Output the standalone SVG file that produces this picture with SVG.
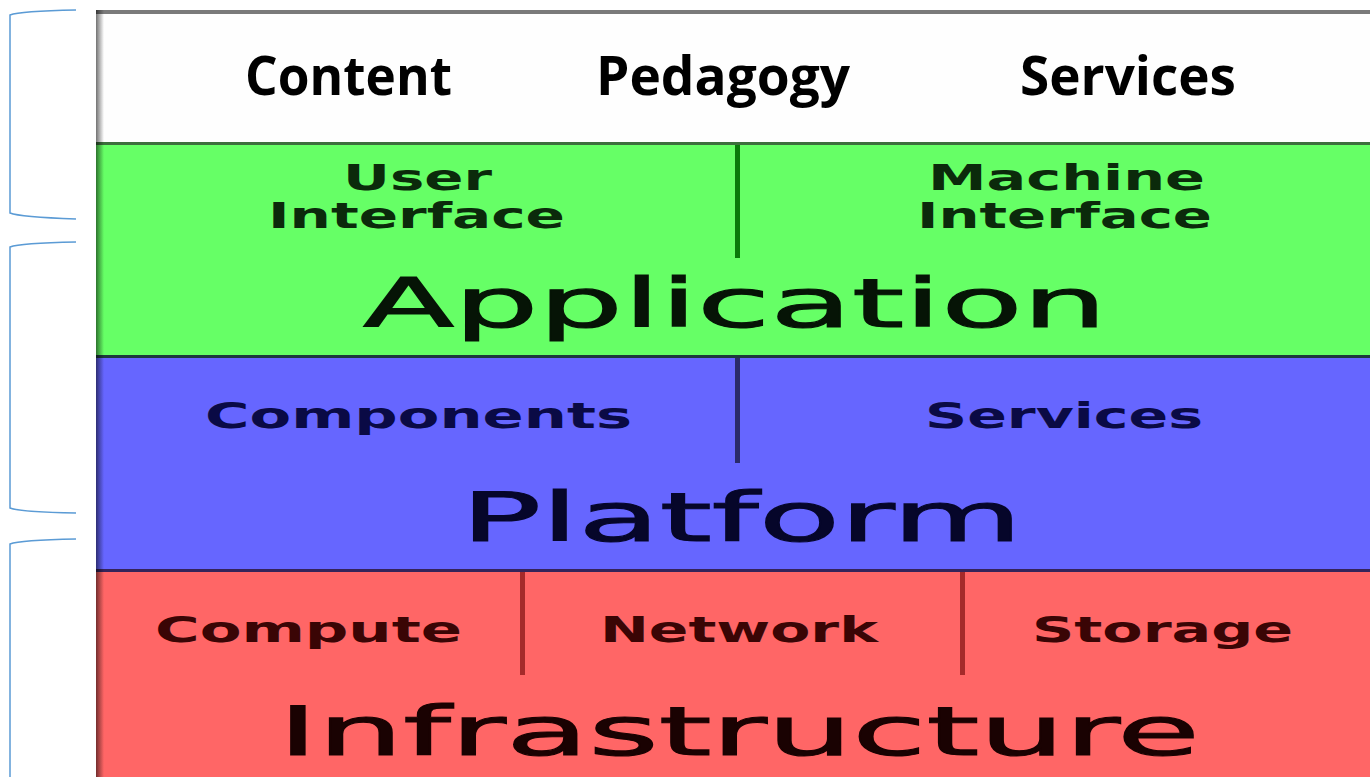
<svg xmlns="http://www.w3.org/2000/svg" width="1370" height="777" viewBox="0 0 1370 777">
<style>
.br{fill:none;stroke:#5b9bd5;stroke-width:1.5}
.hd{font-family:"Open Sans","Liberation Sans",sans-serif;font-weight:bold;font-size:53px;fill:#000}
.sm{font-family:"DejaVu Sans",sans-serif;font-weight:bold;font-size:36px}
.bg{font-family:"DejaVu Sans",sans-serif;font-size:67px;stroke-width:1.1}
.g{fill:#0b2a0b}.b{fill:#0a0a45}.r{fill:#3a0505}
</style>
<defs>
<linearGradient id="sh" x1="0" x2="1" y1="0" y2="0">
<stop offset="0" stop-color="#000" stop-opacity="0.55"/>
<stop offset="1" stop-color="#000" stop-opacity="0"/>
</linearGradient>
</defs>
<rect width="1370" height="777" fill="#fff"/>
<g id="brackets">
<path class="br" d="M76 10 Q20 11 10 15 L10 213 Q20 217 76 219"/>
<path class="br" d="M76 242 Q20 243 10 247 L10 508 Q20 512 76 513"/>
<path class="br" d="M76 539 Q20 540 10 544 L10 777"/>
</g>
<g id="header">
<rect x="96" y="10" width="1274" height="133" fill="#fefefe"/>
<rect x="96" y="10" width="1274" height="4" fill="#7a7a7a"/>
<text class="hd" x="245" y="95" textLength="207" lengthAdjust="spacingAndGlyphs">Content</text>
<text class="hd" x="596" y="95" textLength="254" lengthAdjust="spacingAndGlyphs">Pedagogy</text>
<text class="hd" x="1020" y="95" textLength="216" lengthAdjust="spacingAndGlyphs">Services</text>
</g>
<g id="application">
<rect x="96" y="143" width="1274" height="214" fill="#66ff66"/>
<rect x="96" y="142" width="1274" height="3" fill="#3c6e3c"/>
<rect x="735" y="145" width="5" height="113" fill="#0a7a0a"/>
<text class="sm g" x="343" y="190" textLength="149" lengthAdjust="spacingAndGlyphs">User</text>
<text class="sm g" x="268" y="228" textLength="297" lengthAdjust="spacingAndGlyphs">Interface</text>
<text class="sm g" x="928" y="190" textLength="277" lengthAdjust="spacingAndGlyphs">Machine</text>
<text class="sm g" x="917" y="228" textLength="295" lengthAdjust="spacingAndGlyphs">Interface</text>
<text class="bg" x="363" y="327" textLength="744" lengthAdjust="spacingAndGlyphs" fill="#061406" stroke="#061406">Application</text>
</g>
<g id="platform">
<rect x="96" y="357" width="1274" height="213" fill="#6666ff"/>
<rect x="96" y="355" width="1274" height="3" fill="#1c3a3c"/>
<rect x="735" y="358" width="5" height="105" fill="#2a2a6a"/>
<text class="sm b" x="205" y="428" textLength="427" lengthAdjust="spacingAndGlyphs">Components</text>
<text class="sm b" x="925" y="428" textLength="278" lengthAdjust="spacingAndGlyphs">Services</text>
<text class="bg" x="461" y="541" textLength="561" lengthAdjust="spacingAndGlyphs" fill="#06062a" stroke="#06062a">Platform</text>
</g>
<g id="infrastructure">
<rect x="96" y="570" width="1274" height="207" fill="#ff6666"/>
<rect x="96" y="569" width="1274" height="3" fill="#35245a"/>
<rect x="520" y="572" width="5" height="103" fill="#a52a2a"/>
<rect x="960" y="572" width="5" height="103" fill="#a52a2a"/>
<text class="sm r" x="155" y="642" textLength="307" lengthAdjust="spacingAndGlyphs">Compute</text>
<text class="sm r" x="600" y="642" textLength="278" lengthAdjust="spacingAndGlyphs">Network</text>
<text class="sm r" x="1032" y="642" textLength="261" lengthAdjust="spacingAndGlyphs">Storage</text>
<text class="bg" x="278" y="755" textLength="922" lengthAdjust="spacingAndGlyphs" fill="#1a0202" stroke="#1a0202">Infrastructure</text>
</g>
<rect x="96" y="10" width="8" height="767" fill="url(#sh)"/>
</svg>
